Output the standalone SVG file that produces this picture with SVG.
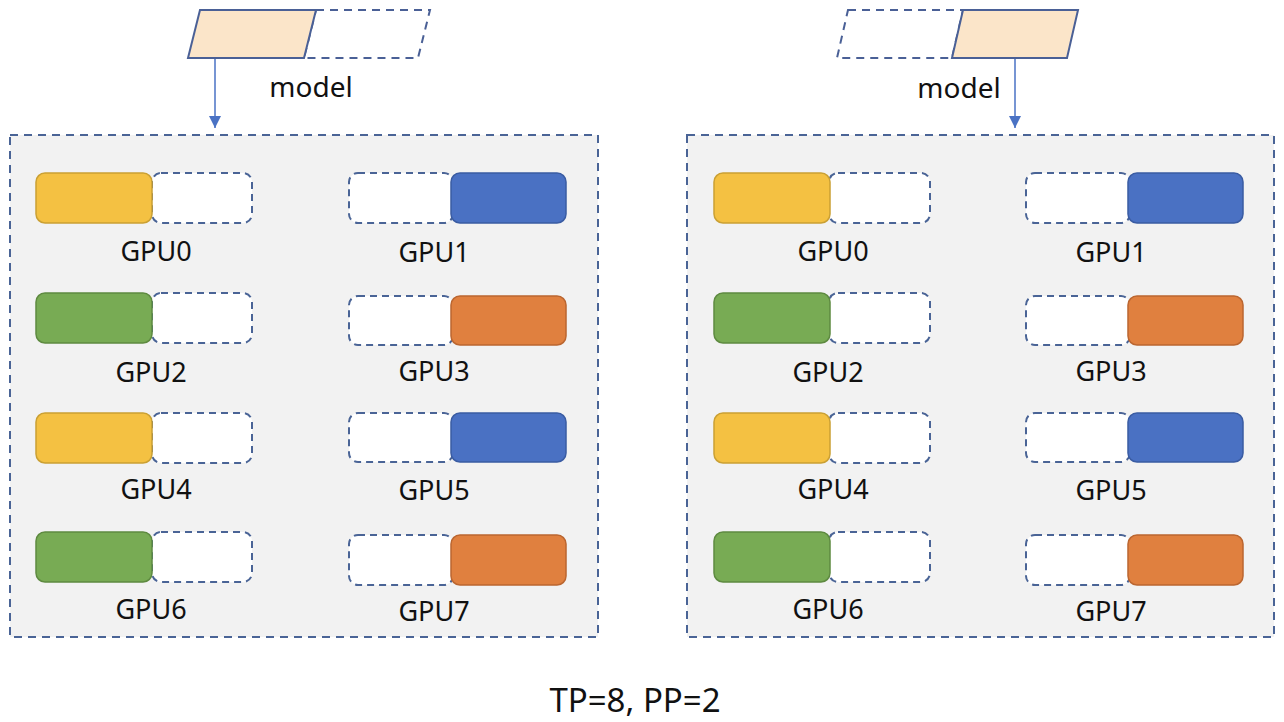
<svg xmlns="http://www.w3.org/2000/svg" width="1284" height="722" viewBox="0 0 1284 722">
<defs>
<style>
.panel{fill:#f2f2f2;stroke:#4a6496;stroke-width:2;stroke-dasharray:8 6}
.dash{fill:#ffffff;stroke:#4a6496;stroke-width:2;stroke-dasharray:7 5}
.y{fill:#f4c142;stroke:#caa033;stroke-width:1.5}
.g{fill:#78ab54;stroke:#5e8a40;stroke-width:1.5}
.b{fill:#4a71c3;stroke:#3a5ca3;stroke-width:1.5}
.o{fill:#e0803f;stroke:#bb6630;stroke-width:1.5}
.para{fill:#fbe5c9;stroke:#4a6096;stroke-width:2}
.pdash{fill:#ffffff;stroke:#4a6096;stroke-width:2;stroke-dasharray:8 6}
.lbl{font-family:"Noto Sans","Liberation Sans",sans-serif;font-size:27px;fill:#111;text-anchor:middle}
.mdl{font-family:"Noto Sans","Liberation Sans",sans-serif;font-size:28px;fill:#111;text-anchor:middle}
.cap{font-family:"Noto Sans","Liberation Sans",sans-serif;font-size:33px;fill:#111;text-anchor:middle}
.arr{stroke:#4a72c4;stroke-width:1.5;fill:none}
</style>
<marker id="ah" viewBox="0 0 12 12" refX="12" refY="6" markerWidth="12" markerHeight="12" markerUnits="userSpaceOnUse" orient="auto">
<path d="M0,0 L12,6 L0,12 z" fill="#4a72c4"/>
</marker>
</defs>
<rect width="1284" height="722" fill="#ffffff"/>

<g id="model-left">
<polygon class="pdash" points="316,10 430,10 418,58 304,58"/>
<polygon class="para" points="200,10 316,10 304,58 188,58"/>
<text class="mdl" x="311" y="97">model</text>
</g>
<g id="model-right">
<polygon class="pdash" points="848,10 963,10 952,58 837,58"/>
<polygon class="para" points="963,10 1078,10 1067,58 952,58"/>
<text class="mdl" x="959" y="98">model</text>
</g>

<g id="panel-left">
<rect class="panel" x="10" y="135" width="588" height="502"/>
</g>
<g id="panel-right">
<rect class="panel" x="687" y="135" width="587" height="502"/>
</g>

<g id="left-gpus">
<g id="L-GPU0"><rect class="dash" x="152" y="173" width="100" height="50" rx="9"/><rect class="y" x="36" y="173" width="116" height="50" rx="9"/><text class="lbl" x="156" y="261">GPU0</text></g>
<g id="L-GPU1"><rect class="dash" x="349" y="173" width="104" height="50" rx="9"/><rect class="b" x="451" y="173" width="115" height="50" rx="9"/><text class="lbl" x="434" y="262">GPU1</text></g>
<g id="L-GPU2"><rect class="dash" x="152" y="293" width="100" height="50" rx="9"/><rect class="g" x="36" y="293" width="116" height="50" rx="9"/><text class="lbl" x="151" y="382">GPU2</text></g>
<g id="L-GPU3"><rect class="dash" x="349" y="296" width="104" height="49" rx="9"/><rect class="o" x="451" y="296" width="115" height="49" rx="9"/><text class="lbl" x="434" y="381">GPU3</text></g>
<g id="L-GPU4"><rect class="dash" x="152" y="413" width="100" height="50" rx="9"/><rect class="y" x="36" y="413" width="116" height="50" rx="9"/><text class="lbl" x="156" y="499">GPU4</text></g>
<g id="L-GPU5"><rect class="dash" x="349" y="413" width="104" height="49" rx="9"/><rect class="b" x="451" y="413" width="115" height="49" rx="9"/><text class="lbl" x="434" y="500">GPU5</text></g>
<g id="L-GPU6"><rect class="dash" x="152" y="532" width="100" height="50" rx="9"/><rect class="g" x="36" y="532" width="116" height="50" rx="9"/><text class="lbl" x="151" y="619">GPU6</text></g>
<g id="L-GPU7"><rect class="dash" x="349" y="535" width="104" height="50" rx="9"/><rect class="o" x="451" y="535" width="115" height="50" rx="9"/><text class="lbl" x="434" y="621">GPU7</text></g>
</g>

<g id="right-gpus">
<g id="R-GPU0"><rect class="dash" x="829" y="173" width="101" height="50" rx="9"/><rect class="y" x="714" y="173" width="116" height="50" rx="9"/><text class="lbl" x="833" y="261">GPU0</text></g>
<g id="R-GPU1"><rect class="dash" x="1026" y="173" width="104" height="50" rx="9"/><rect class="b" x="1128" y="173" width="115" height="50" rx="9"/><text class="lbl" x="1111" y="262">GPU1</text></g>
<g id="R-GPU2"><rect class="dash" x="829" y="293" width="101" height="50" rx="9"/><rect class="g" x="714" y="293" width="116" height="50" rx="9"/><text class="lbl" x="828" y="382">GPU2</text></g>
<g id="R-GPU3"><rect class="dash" x="1026" y="296" width="104" height="49" rx="9"/><rect class="o" x="1128" y="296" width="115" height="49" rx="9"/><text class="lbl" x="1111" y="381">GPU3</text></g>
<g id="R-GPU4"><rect class="dash" x="829" y="413" width="101" height="50" rx="9"/><rect class="y" x="714" y="413" width="116" height="50" rx="9"/><text class="lbl" x="833" y="499">GPU4</text></g>
<g id="R-GPU5"><rect class="dash" x="1026" y="413" width="104" height="49" rx="9"/><rect class="b" x="1128" y="413" width="115" height="49" rx="9"/><text class="lbl" x="1111" y="500">GPU5</text></g>
<g id="R-GPU6"><rect class="dash" x="829" y="532" width="101" height="50" rx="9"/><rect class="g" x="714" y="532" width="116" height="50" rx="9"/><text class="lbl" x="828" y="619">GPU6</text></g>
<g id="R-GPU7"><rect class="dash" x="1026" y="535" width="104" height="50" rx="9"/><rect class="o" x="1128" y="535" width="115" height="50" rx="9"/><text class="lbl" x="1111" y="621">GPU7</text></g>
</g>

<g id="connectors">
<line class="arr" x1="215" y1="59" x2="215" y2="128" marker-end="url(#ah)"/>
<line class="arr" x1="1015" y1="59" x2="1015" y2="128" marker-end="url(#ah)"/>
</g>

<text class="cap" x="635" y="712">TP=8, PP=2</text>
</svg>
